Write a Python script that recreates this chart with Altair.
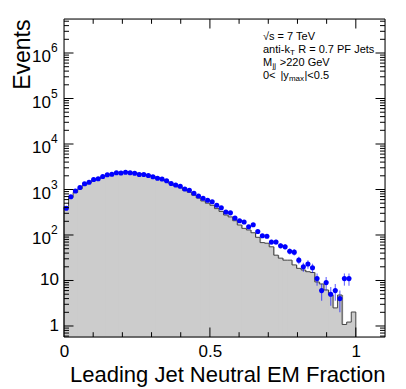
import altair as alt
import pandas as pd

# ---------------- data ----------------
n_bins = 64
bin_width = 1.0 / n_bins

data_counts = [388, 695, 927, 1106, 1341, 1439, 1660, 1718, 1931, 2104,
               2158, 2329, 2305, 2399, 2340, 2280, 2137, 2137, 2031, 1911,
               1771, 1702, 1561, 1355, 1256, 1182, 1026, 960, 825, 720,
               644, 582, 537, 450, 398, 320, 307, 236, 206, 193,
               152, 168, 119, 96, 94, 70, 70, 58, 55, 44,
               42, 28, 20, 23, 19, 11, 6, 9, 5, 6,
               4, 11, 11]
data_errors = [19.7, 26.4, 30.4, 33.3, 36.6, 37.9, 40.7, 41.4, 43.9, 45.9,
               46.5, 48.3, 48.0, 49.0, 48.4, 47.7, 46.2, 46.2, 45.1, 43.7,
               42.1, 41.3, 39.5, 36.8, 35.4, 34.4, 32.0, 31.0, 28.7, 26.8,
               25.4, 24.1, 23.2, 21.2, 19.9, 17.9, 17.5, 15.4, 14.4, 13.9,
               12.3, 13.0, 10.9, 9.8, 9.7, 8.4, 8.4, 7.6, 7.4, 6.6,
               6.5, 5.3, 4.5, 4.8, 4.4, 3.3, 2.4, 3.0, 2.2, 2.4,
               2.0, 3.3, 3.3]
mc_counts = [420, 670, 860, 1040, 1250, 1400, 1600, 1720, 1900, 2080,
             2180, 2300, 2350, 2400, 2400, 2350, 2250, 2180, 2080, 1950,
             1800, 1680, 1530, 1330, 1200, 1100, 960, 870, 750, 650,
             560, 500, 450, 380, 330, 275, 250, 206, 166, 140,
             129, 112, 89, 68, 66, 55, 36, 31, 28, 28,
             22, 18.5, 17, 15.6, 15, 9.3, 8.4, 6.2, 4.8, 2.5,
             4.8, 1.08, 1.22, 2.03]

x_label_values = [0, 0.5, 1.0]
x_major_ticks = [0.5, 1.0]
x_minor_ticks = [0.1, 0.2, 0.3, 0.4, 0.6, 0.7, 0.8, 0.9]
y_major_ticks = [1, 10, 100, 1e3, 1e4, 1e5, 1e6]
y_plain_labels = ["1", "10"]
y_plain_values = [1, 10]
y_exp_values = [1e2, 1e3, 1e4, 1e5, 1e6]
y_exp_labels = ["2", "3", "4", "5", "6"]

x_domain = [0, 1.1]
y_domain = [0.573, 5.59e6]

W, H = 321, 318
FONT = "Liberation Sans"

y_minor_ticks = [m * 10 ** k for k in range(-1, 7) for m in range(2, 10)
                 if y_domain[0] < m * 10 ** k < y_domain[1]]

# ---------------- tables ----------------
overlap = 0.25 * bin_width  # rects overlap slightly so no seams show
hist_df = pd.DataFrame({
    "lo": [k * bin_width for k in range(n_bins)],
    "hi": [(k + 1) * bin_width + (overlap if k < n_bins - 1 else 0) for k in range(n_bins)],
    "mc": mc_counts,
})
step_x = [0.0] + [k * bin_width for k in range(n_bins)] + [1.0, 1.0]
step_y = [y_domain[0]] + mc_counts + [mc_counts[-1], y_domain[0]]
step_df = pd.DataFrame({"x": step_x, "y": step_y, "o": list(range(len(step_x)))})

pts_df = pd.DataFrame({
    "x": [(k + 0.5) * bin_width for k in range(len(data_counts))],
    "n": data_counts,
    "lo": [n - e for n, e in zip(data_counts, data_errors)],
    "hi": [n + e for n, e in zip(data_counts, data_errors)],
})

xs = alt.Scale(domain=x_domain, nice=False, zero=False)
ys = alt.Scale(type="log", domain=y_domain, nice=False)

x_axis = alt.Axis(values=x_label_values, format="~g", ticks=False, domain=False,
                  grid=False, labelFontSize=17, labelPadding=6, labelFlush=False,
                  labelColor="black", labelFont=FONT,
                  title="Leading Jet Neutral EM Fraction", titleFontSize=22,
                  titleFont=FONT, titleFontWeight="normal", titleColor="black",
                  titleAnchor="end", titleAlign="right", titleX=W, titleY=44.5,
                  titleBaseline="alphabetic")
y_axis = alt.Axis(labels=False, ticks=False, domain=False, grid=False,
                  title="Events", titleFontSize=23, titleFont=FONT,
                  titleFontWeight="normal", titleColor="black", titleAngle=270,
                  titleAlign="right", titleBaseline="alphabetic",
                  titleX=-35, titleY=0)


def X(field):
    return alt.X(field, type="quantitative", scale=xs, axis=x_axis,
                 title="Leading Jet Neutral EM Fraction")


def Y(field):
    return alt.Y(field, type="quantitative", scale=ys, axis=y_axis, title="Events")


fill = alt.Chart(hist_df).mark_rect(color="#cccccc", strokeWidth=0).encode(
    x=X("lo"), x2="hi:Q", y=Y("mc"), y2=alt.value(H),
)

outline = alt.Chart(step_df).mark_line(interpolate="step-after", color="#444444",
                                       strokeWidth=1).encode(
    x=X("x"), y=Y("y"), order="o:Q",
)

errs = alt.Chart(pts_df).mark_rule(color="#0000ff", opacity=0.55, strokeWidth=1.2).encode(
    x=X("x"), y=Y("lo"), y2="hi:Q",
)

pts = alt.Chart(pts_df).mark_circle(color="#0000ff", opacity=1, size=26).encode(
    x=X("x"), y=Y("n"),
)


def xticks(vals, length):
    d = pd.DataFrame({"v": vals})
    bot = alt.Chart(d).mark_rule(color="black", strokeWidth=1).encode(
        x=X("v"), y=alt.value(H), y2=alt.value(H - length))
    top = alt.Chart(d).mark_rule(color="black", strokeWidth=1).encode(
        x=X("v"), y=alt.value(0), y2=alt.value(length))
    return [bot, top]


def yticks(vals, length):
    d = pd.DataFrame({"v": vals})
    left = alt.Chart(d).mark_rule(color="black", strokeWidth=1).encode(
        y=Y("v"), x=alt.value(0), x2=alt.value(length))
    right = alt.Chart(d).mark_rule(color="black", strokeWidth=1).encode(
        y=Y("v"), x=alt.value(W), x2=alt.value(W - length))
    return [left, right]


ticks = (xticks(x_major_ticks, 9.5) + xticks(x_minor_ticks, 4.8)
         + yticks(y_major_ticks, 9.5) + yticks(y_minor_ticks, 5))

one = pd.DataFrame({"a": [0]})
frame = [
    alt.Chart(one).mark_rule(color="black", strokeWidth=1).encode(
        x=alt.value(0), y=alt.value(0), y2=alt.value(H)),
    alt.Chart(one).mark_rule(color="black", strokeWidth=1).encode(
        x=alt.value(W), y=alt.value(0), y2=alt.value(H)),
    alt.Chart(one).mark_rule(color="black", strokeWidth=1).encode(
        y=alt.value(0), x=alt.value(0), x2=alt.value(W)),
    alt.Chart(one).mark_rule(color="black", strokeWidth=1).encode(
        y=alt.value(H), x=alt.value(0), x2=alt.value(W)),
]

plain_lab = alt.Chart(pd.DataFrame({"v": y_plain_values, "t": y_plain_labels})).mark_text(
    align="right", baseline="middle", fontSize=17, font=FONT, color="black").encode(
    y=Y("v"), x=alt.value(-5), text="t:N")
exp_base = alt.Chart(pd.DataFrame({"v": y_exp_values})).mark_text(
    align="right", baseline="middle", fontSize=17, font=FONT, color="black", dy=4,
    text="10").encode(
    y=Y("v"), x=alt.value(-13))
exp_sup = alt.Chart(pd.DataFrame({"v": y_exp_values, "t": y_exp_labels})).mark_text(
    align="left", baseline="middle", fontSize=12, font=FONT, color="black", dy=-5).encode(
    y=Y("v"), x=alt.value(-13), text="t:N")


def note(text, x, y, size=11):
    return alt.Chart(pd.DataFrame({"t": [text]})).mark_text(
        align="left", baseline="middle", fontSize=size, font=FONT, color="black").encode(
        x=alt.value(x), y=alt.value(y), text="t:N")


L1, L2, L3, L4 = 18, 31, 44, 57
X0 = 199
notes = [
    note("\u221as = 7 TeV", X0, L1),
    note("anti-k", X0, L2), note("T", X0 + 26.9, L2 + 3, 8),
    note("R = 0.7 PF Jets", X0 + 35.2, L2),
    note("M", X0, L3), note("jj", X0 + 9.4, L3 + 3, 8),
    note(">220 GeV", X0 + 16.8, L3),
    note("0<", X0, L4), note("|y", X0 + 17.5, L4),
    note("max", X0 + 25.9, L4 + 3, 8), note("|<0.5", X0 + 41.5, L4),
]

chart = alt.layer(fill, outline, errs, pts, *ticks, *frame, plain_lab, exp_base,
                  exp_sup, *notes).properties(
    width=W, height=H,
    autosize=alt.AutoSizeParams(type="none"),
    padding={"left": 56, "top": 11, "right": 13, "bottom": 52},
).configure_view(stroke="black", strokeWidth=1).configure(background="white")

chart.save("out.html", embed_options={"renderer": "svg", "actions": False})
